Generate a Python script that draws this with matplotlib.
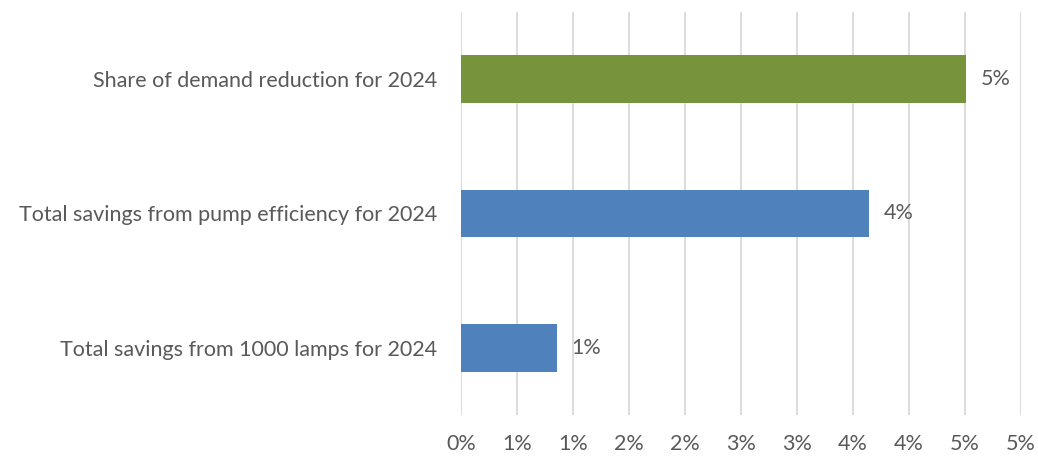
import math
import matplotlib
matplotlib.use("Agg")
import matplotlib.pyplot as plt
from matplotlib.ticker import FuncFormatter, MultipleLocator

categories = [
    "Total savings from 1000 lamps for 2024",
    "Total savings from pump efficiency for 2024",
    "Share of demand reduction for 2024",
]
values = [0.854, 3.646, 4.51]  # percent
colors = ["#4F81BD", "#4F81BD", "#77933C"]

text_color = "#595959"
grid_color = "#D9D9D9"

plt.rcParams["font.family"] = ["Lato", "DejaVu Sans"]

fig = plt.figure(figsize=(10.38, 4.59), dpi=100)
ax = fig.add_axes([0.4441, 0.0959, 0.9836 - 0.4441, 0.9739 - 0.0959])

y = range(len(categories))
ax.barh(y, values, height=0.355, color=colors, zorder=3)

# excel-style "0%" labels: round half up
def pct(v):
    return f"{int(math.floor(v + 0.5))}%"

for yi, v in zip(y, values):
    ax.text(v + 0.13, yi, pct(v), va="center", ha="left",
            fontsize=15.5, color=text_color)

ax.set_xlim(0, 5.0)
ax.set_ylim(-0.5, 2.5)
ax.xaxis.set_major_locator(MultipleLocator(0.5))
ax.xaxis.set_major_formatter(FuncFormatter(lambda v, _: pct(v)))
ax.set_yticks(list(y))
ax.set_yticklabels(categories)

ax.grid(axis="x", color=grid_color, linewidth=1.3, zorder=0)
for s in ax.spines.values():
    s.set_visible(False)
ax.tick_params(axis="both", length=0, labelsize=15.5, labelcolor=text_color)
ax.tick_params(axis="x", pad=14)
ax.tick_params(axis="y", pad=17)

fig.savefig("out.png", dpi=100)
